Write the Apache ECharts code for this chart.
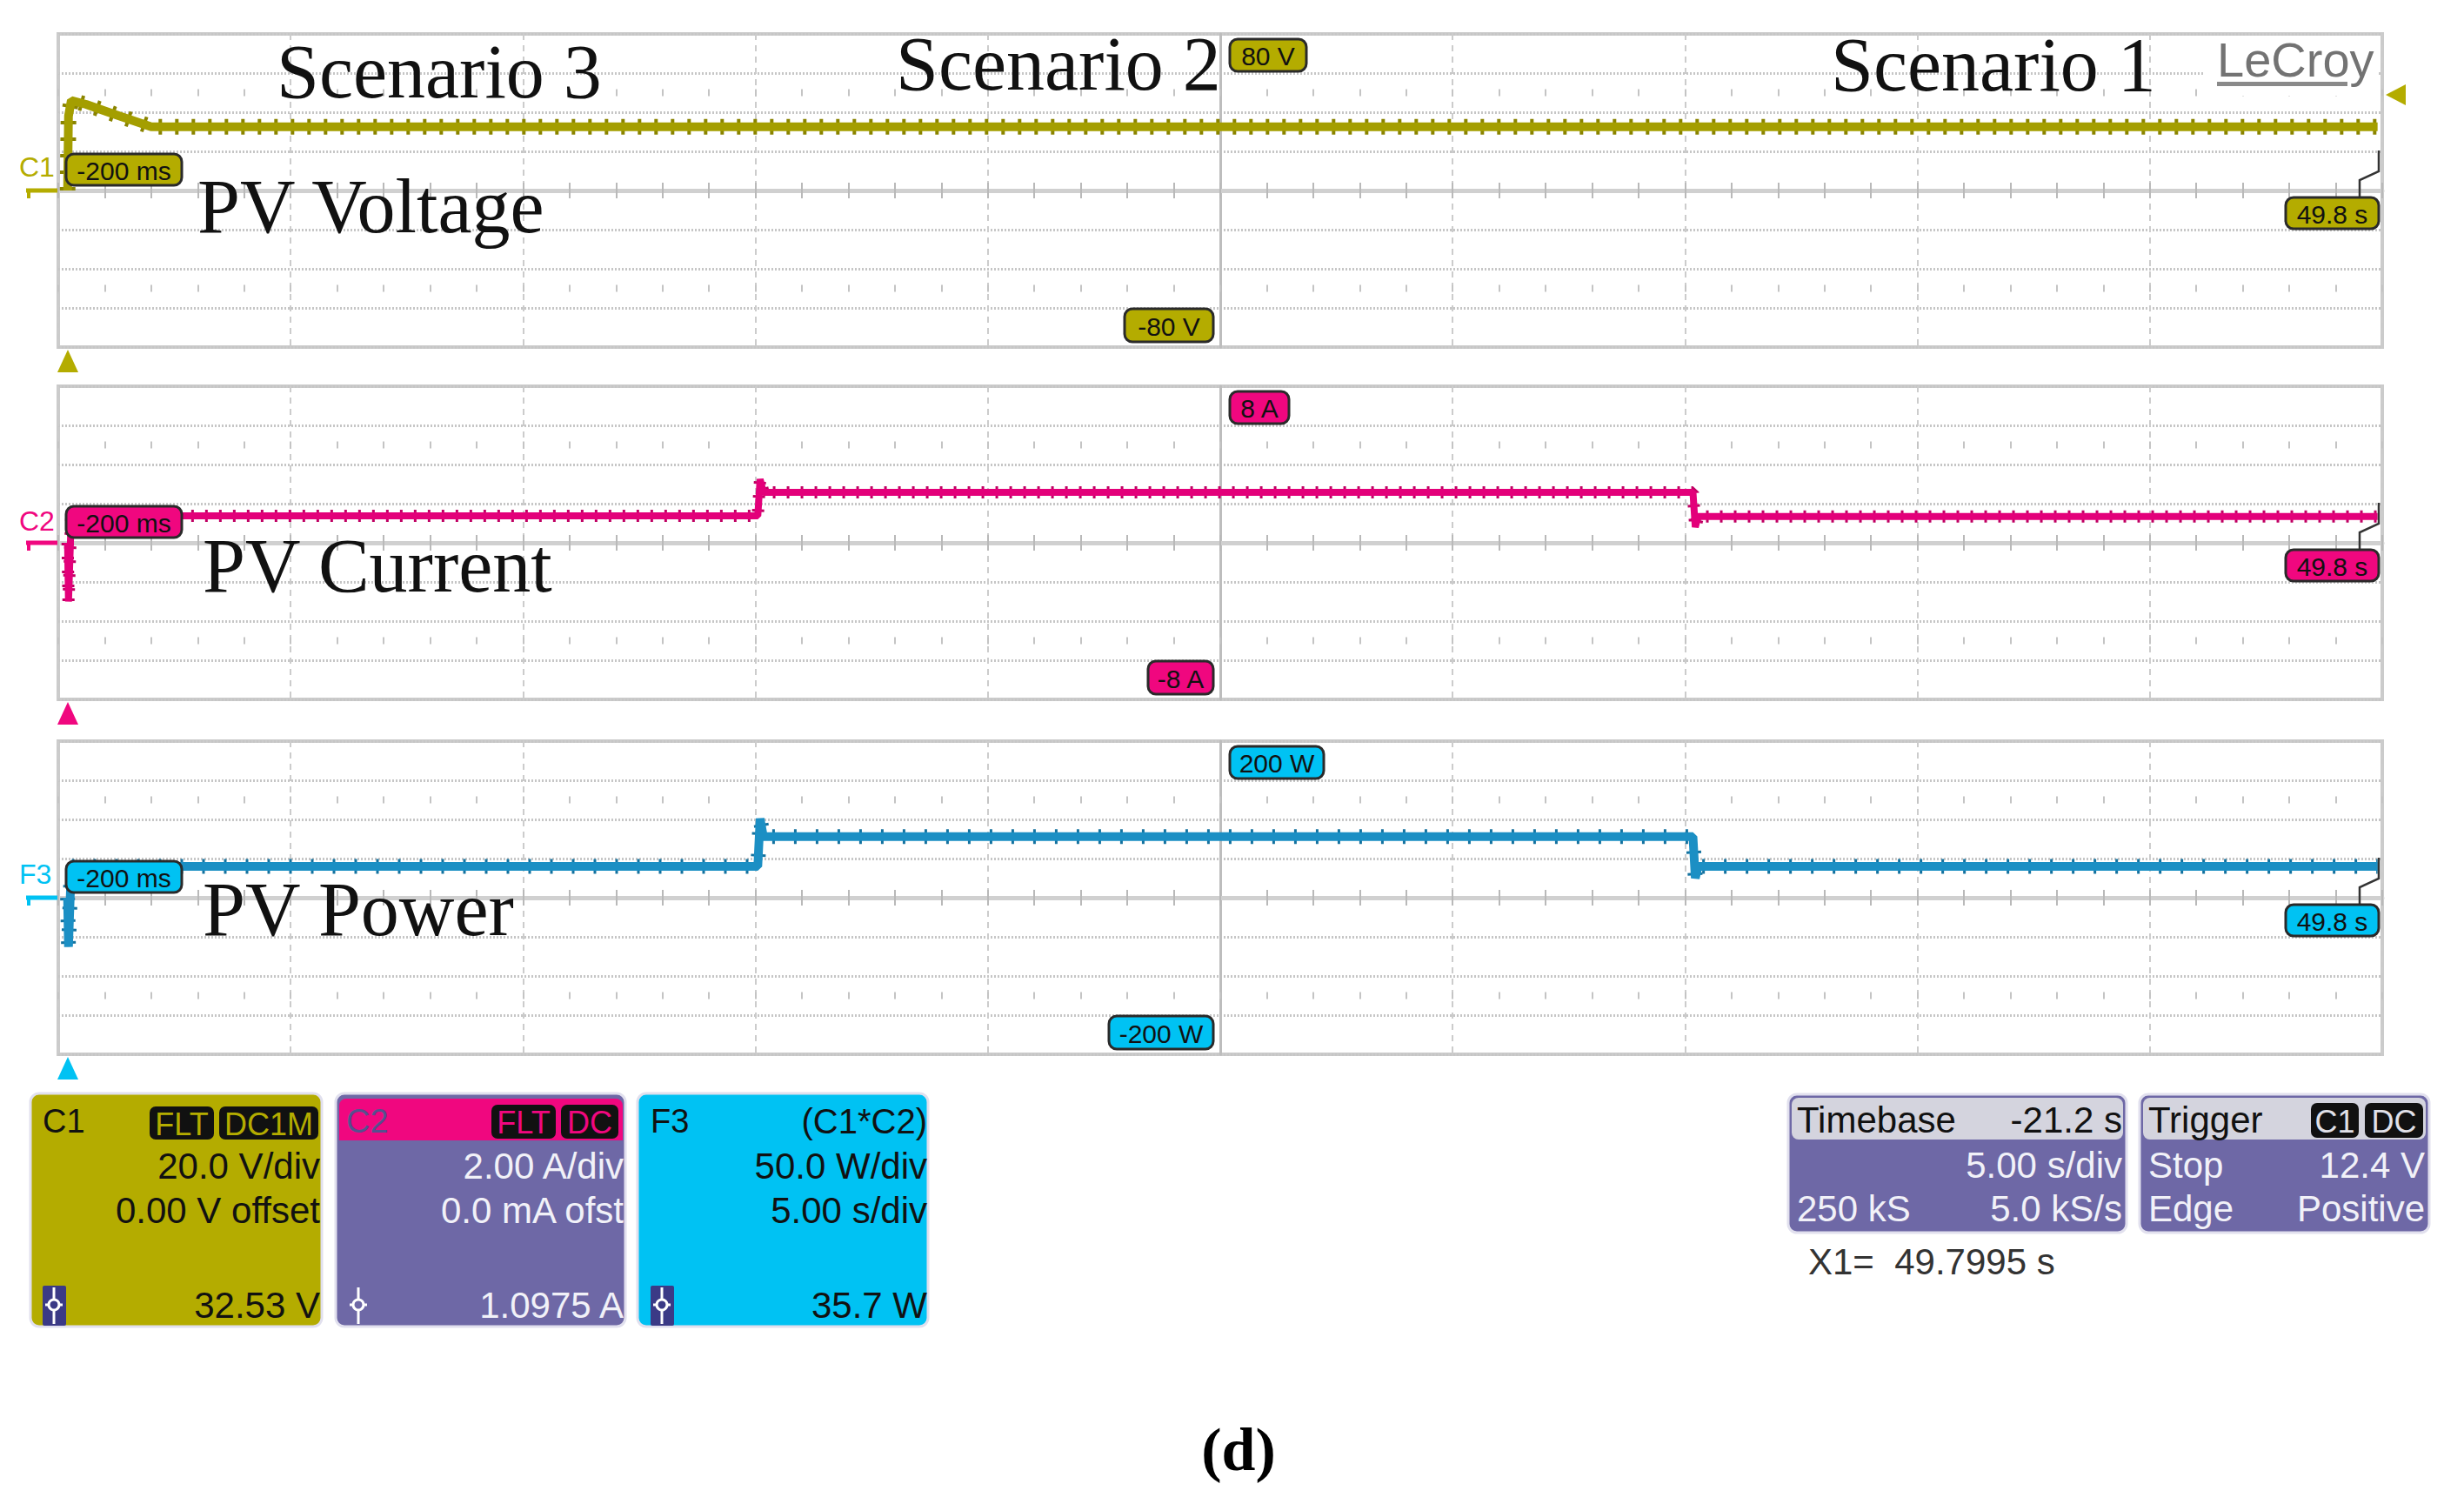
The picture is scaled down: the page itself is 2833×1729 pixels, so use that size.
<!DOCTYPE html>
<html><head><meta charset="utf-8">
<script src="https://cdn.jsdelivr.net/npm/echarts@6/dist/echarts.min.js"></script>
<style>html,body{margin:0;padding:0;background:#fff}#c{width:2833px;height:1729px}</style>
</head><body><div id="c"></div>
<script>
// ---------------- data ----------------
const timeWindow = [-0.2, 49.8];          // s, 10 div x 5 s/div
const timeV = [0, 0.02, 0.08, 0.4, 1.0, 1.8, 49.7];
const voltV = [0, 38, 46, 44, 39, 32.6, 32.6];
const timeI = [0, 0.02, 0.08, 14.85, 14.9, 14.97, 34.97, 35.02, 35.08, 49.7];
const currA = [0, -3.0, 1.38, 1.38, 3.25, 2.58, 2.58, 0.8, 1.35, 1.35];
const timeP = [0, 0.02, 0.08, 14.85, 14.9, 14.97, 34.97, 35.02, 35.08, 49.7];
const powW  = [0, -63, 40, 40, 101, 78, 78, 25, 40, 40];
const axisMin  = [-80, -8, -200];
const axisMax  = [80, 8, 200];
const axisStep = [20, 2, 50];
const scaleTop = ['80 V', '8 A', '200 W'];
const scaleBottom = ['-80 V', '-8 A', '-200 W'];
const scenarioLabels = ['Scenario 3', 'Scenario 2', 'Scenario 1'];
const traceTitles = ['PV Voltage', 'PV Current', 'PV Power'];
const chanNames = ['C1', 'C2', 'F3'];
const startLabel = '-200 ms', endLabel = '49.8 s';

// ---------------- styling ----------------
const SANS = '"Liberation Sans", Arial, sans-serif';
const SERIF = '"Liberation Serif", "Times New Roman", serif';
const chanColor = ['#b4ac00', '#f0077f', '#00c2f3'];
const traceColor = ['#a49e00', '#e3007a', '#1b8fc4'];
const traceDark = ['#8a8400', '#c00063', '#14729f'];
const gridTop = [39, 444, 852], gridLeft = 67, gridW = 2672, gridH = 360;

const chart = echarts.init(document.getElementById('c'), null, {renderer: 'svg'});

const grids = [], xAxes = [], yAxes = [], series = [];
const traces = [[timeV, voltV], [timeI, currA], [timeP, powW]];
const mainW = [10, 8, 10], toothW = [18, 14, 17], toothDash = [[4, 15], [3, 13], [3, 22]];
for (let i = 0; i < 3; i++) {
  grids.push({left: gridLeft, top: gridTop[i], width: gridW, height: gridH, show: true,
    borderColor: '#cbcbcb', borderWidth: 4, backgroundColor: '#ffffff'});
  const base = 5 * i;
  xAxes.push({type: 'value', gridIndex: i, min: timeWindow[0], max: timeWindow[1], show: false});
  xAxes.push({type: 'value', gridIndex: i, min: -5, max: 5, interval: 1,
    axisLine: {show: true, onZero: true, onZeroAxisIndex: i, lineStyle: {color: '#d0d0d0', width: 5}},
    axisTick: {show: true, inside: true, length: 9, lineStyle: {color: '#b9b9b9', width: 2}},
    minorTick: {show: true, splitNumber: 5, length: 9, lineStyle: {color: '#b9b9b9', width: 2}},
    axisLabel: {show: false},
    splitLine: {show: true, lineStyle: {color: '#cccccc', width: 2, type: [7, 6]}}});
  xAxes.push({type: 'value', gridIndex: i, min: -5, max: 5, interval: 1,
    axisLine: {show: false, onZero: true, onZeroAxisIndex: i},
    axisTick: {show: true, inside: false, length: 9, lineStyle: {color: '#b9b9b9', width: 2}},
    minorTick: {show: true, splitNumber: 5, length: 9, lineStyle: {color: '#b9b9b9', width: 2}},
    axisLabel: {show: false}, splitLine: {show: false}});
  xAxes.push({type: 'value', gridIndex: i, min: -5, max: 5, interval: 1, position: 'top', offset: -63.5,
    axisLine: {show: false, onZero: false},
    axisTick: {show: true, inside: true, length: 8, lineStyle: {color: '#c4c4c4', width: 2}},
    minorTick: {show: true, splitNumber: 5, length: 8, lineStyle: {color: '#c4c4c4', width: 2}},
    axisLabel: {show: false}, splitLine: {show: false}});
  xAxes.push({type: 'value', gridIndex: i, min: -5, max: 5, interval: 1, position: 'bottom', offset: -63.5,
    axisLine: {show: false, onZero: false},
    axisTick: {show: true, inside: true, length: 8, lineStyle: {color: '#c4c4c4', width: 2}},
    minorTick: {show: true, splitNumber: 5, length: 8, lineStyle: {color: '#c4c4c4', width: 2}},
    axisLabel: {show: false}, splitLine: {show: false}});
  yAxes.push({type: 'value', gridIndex: i, min: axisMin[i], max: axisMax[i], interval: axisStep[i],
    axisLine: {show: true, onZero: true, onZeroAxisIndex: base + 1, lineStyle: {color: '#bdbdbd', width: 3}},
    axisTick: {show: false}, axisLabel: {show: false},
    splitLine: {show: true, lineStyle: {color: '#c6c6c6', width: 3, type: [2, 2]}}});
  const data = traces[i][0].map((t, k) => [t, traces[i][1][k]]);
  series.push({type: 'line', xAxisIndex: base, yAxisIndex: i, data, symbol: 'none', silent: true, z: 4,
    lineStyle: {color: traceDark[i], width: toothW[i], type: toothDash[i]}});
  series.push({type: 'line', xAxisIndex: base, yAxisIndex: i, data, symbol: 'none', silent: true, z: 5,
    lineStyle: {color: traceColor[i], width: mainW[i]}});
}

// ---------------- graphic helpers ----------------
const g = [];
function txt(x, y, s, o) {
  o = o || {};
  return {type: 'text', z: 130, x, y, silent: true,
    style: {text: s, font: (o.weight ? o.weight + ' ' : '') + (o.size || 42) + 'px ' + (o.family || SANS),
      fill: o.color || '#111', align: o.align || 'left', textAlign: o.align || 'left',
      verticalAlign: 'middle', textVerticalAlign: 'middle'}};
}
function rect(x, y, w, h, fill, o) {
  o = o || {};
  return {type: 'rect', z: o.z || 110, silent: true, shape: {x, y, width: w, height: h, r: o.r == null ? 8 : o.r},
    style: {fill, stroke: o.stroke || null, lineWidth: o.lw || 0}};
}
function tag(x, y, w, h, s, fill) {
  g.push(rect(x, y, w, h, fill, {stroke: '#2a2a2a', lw: 3, r: 9, z: 120}));
  g.push(txt(x + w / 2, y + h / 2 + 1, s, {size: 30, align: 'center'}));
}
function poly(points, stroke, lw, z) {
  return {type: 'polyline', z: z || 115, silent: true, shape: {points}, style: {stroke, lineWidth: lw, fill: null}};
}
function tri(points, fill) {
  return {type: 'polygon', z: 115, silent: true, shape: {points}, style: {fill}};
}

const centers = gridTop.map(t => t + gridH / 2);
const cx = gridLeft + gridW / 2;
for (let i = 0; i < 3; i++) {
  const c = centers[i], top = gridTop[i], bot = top + gridH;
  tag(76, c - 42, 133, 36, startLabel, chanColor[i]);
  tag(2628, c + 8, 107, 36, endLabel, chanColor[i]);
  const wTop = [88, 68, 108][i], wBot = [102, 75, 120][i];
  tag(cx + 11, top + 6, wTop, 37, scaleTop[i], chanColor[i]);
  tag(cx - 8 - wBot, bot - 44, wBot, 38, scaleBottom[i], chanColor[i]);
  g.push(txt(22, [192, 599, 1005][i], chanNames[i], {size: 32, color: chanColor[i]}));
  g.push(poly([[30, c], [66, c]], chanColor[i], 5));
  g.push(poly([[33, c], [33, c + 9]], chanColor[i], 4));
  g.push(tri([[78, bot + 3], [66, bot + 29], [90, bot + 29]], chanColor[i]));
  g.push(poly([[2735, c - 46], [2735, c - 22], [2713, c - 12], [2713, c + 8]], '#333333', 2.5, 118));
}
g.push(tri([[2766, 97], [2766, 121], [2743, 109]], chanColor[0]));

// LeCroy logo
g.push(rect(2534, 42, 200, 68, '#ffffff', {r: 0, z: 105}));
g.push(txt(2549, 68, 'LeCroy', {size: 56, color: '#737373'}));
g.push(rect(2549, 94, 150, 5, '#8a8a8a', {r: 0, z: 131}));

// big serif annotations
g.push(txt(318, 112 - 30, scenarioLabels[0], {size: 88, family: SERIF}));
g.push(txt(1030, 103 - 30, scenarioLabels[1], {size: 88, family: SERIF}));
g.push(txt(2105, 104 - 30, scenarioLabels[2], {size: 88, family: SERIF}));
g.push(txt(227, 267 - 30, traceTitles[0], {size: 88, family: SERIF}));
g.push(txt(233, 680 - 30, traceTitles[1], {size: 88, family: SERIF}));
g.push(txt(233, 1075 - 30, traceTitles[2], {size: 88, family: SERIF}));

// ---------------- info boxes ----------------
function icon(x, y, withBg) {
  if (withBg) g.push(rect(x, y - 22, 27, 46, '#3b3a86', {r: 2, z: 125}));
  const m = x + 13;
  g.push(poly([[m, y - 20], [m, y + 22]], '#ffffff', 3, 126));
  g.push(poly([[m - 10, y], [m + 10, y]], '#ffffff', 3, 126));
  g.push({type: 'circle', z: 127, silent: true, shape: {cx: m, cy: y, r: 6}, style: {fill: withBg ? '#3b3a86' : '#6e68a6', stroke: '#ffffff', lineWidth: 3}});
}
function badge(x0, x1, y0, y1, s, color) {
  g.push(rect(x0, y0, x1 - x0, y1 - y0, '#111111', {r: 7, z: 122}));
  g.push(txt((x0 + x1) / 2, (y0 + y1) / 2 + 1, s, {size: 36, align: 'center', color}));
}
const yHead = 1289, yL1 = 1340, yL2 = 1391, yBot = 1500;
// C1
g.push(rect(35, 1257, 335, 268, '#b4ac00', {stroke: '#e1e0ee', lw: 3, r: 10}));
g.push(txt(49, yHead, 'C1', {size: 38}));
badge(172, 246, 1272, 1310, 'FLT', '#b4ac00');
badge(252, 366, 1272, 1310, 'DC1M', '#b4ac00');
g.push(txt(368, yL1, '20.0 V/div', {align: 'right'}));
g.push(txt(368, yL2, '0.00 V offset', {align: 'right'}));
g.push(txt(368, yBot, '32.53 V', {align: 'right'}));
icon(49, yBot, true);
// C2
g.push(rect(386, 1257, 333, 268, '#6e68a6', {stroke: '#e1e0ee', lw: 3, r: 10}));
g.push({type: 'rect', z: 112, silent: true, shape: {x: 390, y: 1263, width: 326, height: 48, r: [8, 8, 0, 0]}, style: {fill: '#f0077f'}});
g.push(txt(398, yHead, 'C2', {size: 38, color: '#55508e'}));
badge(565, 639, 1270, 1309, 'FLT', '#f0077f');
badge(645, 711, 1270, 1309, 'DC', '#f0077f');
g.push(txt(717, yL1, '2.00 A/div', {align: 'right', color: '#f1f1f8'}));
g.push(txt(717, yL2, '0.0 mA ofst', {align: 'right', color: '#f1f1f8'}));
g.push(txt(717, yBot, '1.0975 A', {align: 'right', color: '#f1f1f8'}));
icon(399, yBot, false);
// F3
g.push(rect(733, 1257, 334, 268, '#00c2f3', {stroke: '#e1e0ee', lw: 3, r: 10}));
g.push(txt(748, yHead, 'F3', {size: 38}));
g.push(txt(1066, yHead, '(C1*C2)', {align: 'right', size: 40}));
g.push(txt(1066, yL1, '50.0 W/div', {align: 'right'}));
g.push(txt(1066, yL2, '5.00 s/div', {align: 'right'}));
g.push(txt(1066, yBot, '35.7 W', {align: 'right'}));
icon(748, yBot, true);
// Timebase
g.push(rect(2056, 1258, 389, 159, '#6e68a6', {stroke: '#e1e0ee', lw: 3, r: 10}));
g.push(rect(2060, 1262, 381, 48, '#d4d4de', {r: 8, z: 112}));
g.push(txt(2066, 1287, 'Timebase'));
g.push(txt(2440, 1287, '-21.2 s', {align: 'right'}));
g.push(txt(2440, 1339, '5.00 s/div', {align: 'right', color: '#f1f1f8'}));
g.push(txt(2066, 1389, '250 kS', {color: '#f1f1f8'}));
g.push(txt(2440, 1389, '5.0 kS/s', {align: 'right', color: '#f1f1f8'}));
// Trigger
g.push(rect(2460, 1258, 333, 159, '#6e68a6', {stroke: '#e1e0ee', lw: 3, r: 10}));
g.push(rect(2464, 1262, 325, 48, '#d4d4de', {r: 8, z: 112}));
g.push(txt(2470, 1287, 'Trigger'));
badge(2657, 2712, 1268, 1308, 'C1', '#e0e0e8');
badge(2719, 2786, 1268, 1308, 'DC', '#e0e0e8');
g.push(txt(2470, 1339, 'Stop', {color: '#f1f1f8'}));
g.push(txt(2788, 1339, '12.4 V', {align: 'right', color: '#f1f1f8'}));
g.push(txt(2470, 1389, 'Edge', {color: '#f1f1f8'}));
g.push(txt(2788, 1389, 'Positive', {align: 'right', color: '#f1f1f8'}));
g.push(txt(2079, 1450, 'X1=\u00a0\u00a049.7995 s', {color: '#333333'}));

// caption
g.push(txt(1424, 1690 - 24, '(d)', {size: 70, family: SERIF, weight: 'bold', align: 'center', color: '#000'}));

chart.setOption({
  animation: false,
  backgroundColor: '#ffffff',
  grid: grids, xAxis: xAxes, yAxis: yAxes, series,
  graphic: g
});
</script></body></html>
